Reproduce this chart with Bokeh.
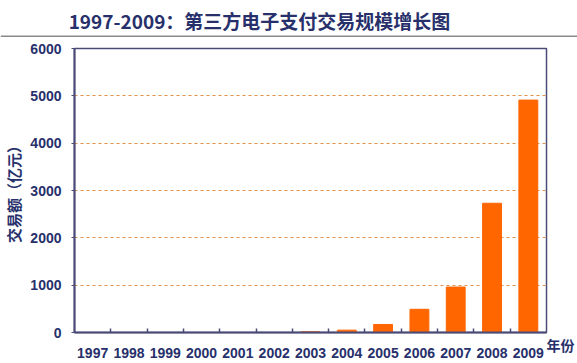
from bokeh.plotting import figure
from bokeh.models import FixedTicker, Label, Range1d, LinearAxis, Span
from bokeh.layouts import column
from bokeh.embed import file_html
from bokeh.resources import INLINE

years = [1997, 1998, 1999, 2000, 2001, 2002, 2003, 2004, 2005, 2006, 2007, 2008, 2009]
values = [0, 0, 0, 0, 0, 0, 15, 50, 170, 490, 960, 2730, 4910]
y_ticks = [0, 1000, 2000, 3000, 4000, 5000, 6000]
title_text = "1997-2009：第三方电子支付交易规模增长图"
y_label = "交易额（亿元）"
x_label = "年份"

NAVY = "#27306B"
AXIS = "#4B4B78"
FONT = "Liberation Sans"
CJK = "Noto Sans CJK SC"
W = 577

# header with the title and a gray rule beneath it
head = figure(width=W, height=37, output_backend="svg", toolbar_location=None,
              x_range=Range1d(0, W), y_range=Range1d(0, 37),
              min_border_left=0, min_border_right=0, min_border_top=0, min_border_bottom=0)
try:
    head.frame_align = False
except Exception:
    pass
head.axis.visible = False
head.grid.visible = False
head.outline_line_color = None
head.add_layout(Label(x=259, y=17, text=title_text, text_font=CJK, text_font_style="bold",
                      text_font_size="19px", text_color=NAVY, text_align="center",
                      text_baseline="middle"))
head.add_layout(Span(location=1, dimension="width", line_color="#8A8A8A", line_width=2))

# main chart
p = figure(width=W, height=326, output_backend="svg", toolbar_location=None,
           x_range=Range1d(years[0] - 0.5, years[-1] + 0.5), y_range=Range1d(0, 6000),
           min_border_left=70, min_border_right=31, min_border_top=11, min_border_bottom=31)
try:
    p.frame_align = False
except Exception:
    pass

p.vbar(x=years, top=values, width=0.52, color="#FF6600", line_color="#FF6600")

boundaries = [y + 0.5 for y in years[:-1]]
p.xaxis.ticker = FixedTicker(ticks=years, minor_ticks=boundaries)
p.xaxis.major_tick_line_color = None
p.xaxis.major_tick_in = 0
p.xaxis.major_tick_out = 0
p.xaxis.minor_tick_in = 4
p.xaxis.minor_tick_out = 0
p.xaxis.minor_tick_line_color = AXIS
p.xaxis.minor_tick_line_width = 1.5
p.yaxis.ticker = FixedTicker(ticks=y_ticks)
p.yaxis.minor_tick_line_color = None
p.yaxis.major_tick_in = 0
p.yaxis.major_tick_out = 3
p.yaxis.major_tick_line_color = AXIS
for ax in (p.xaxis, p.yaxis):
    ax.axis_line_color = AXIS
    ax.axis_line_width = 2
    ax.major_label_text_font = FONT
    ax.major_label_text_font_style = "bold"
    ax.major_label_text_color = NAVY
    ax.major_label_text_font_size = "14px"
p.xaxis.major_label_standoff = 15
p.yaxis.major_label_standoff = 10

p.yaxis.axis_label = y_label
p.yaxis.axis_label_text_font = CJK
p.yaxis.axis_label_text_font_style = "bold"
p.yaxis.axis_label_text_font_size = "15px"
p.yaxis.axis_label_text_color = NAVY
p.yaxis.axis_label_standoff = 3

p.xgrid.grid_line_color = None
p.ygrid.grid_line_color = "#E0904A"
p.ygrid.grid_line_dash = "3 3"
p.ygrid.grid_line_width = 1

p.outline_line_color = AXIS
p.outline_line_width = 1.5

# "年份" on a right-side helper axis, set one line below the bottom-right corner
p.extra_y_ranges = {"lab": Range1d(0, 1)}
lab_axis = LinearAxis(y_range_name="lab", ticker=FixedTicker(ticks=[0]),
                      major_label_overrides={0: "\n" + x_label})
lab_axis.axis_line_color = None
lab_axis.major_tick_line_color = None
lab_axis.minor_tick_line_color = None
lab_axis.major_tick_in = 0
lab_axis.major_tick_out = 0
lab_axis.major_label_standoff = 0
lab_axis.major_label_text_font = CJK
lab_axis.major_label_text_font_style = "bold"
lab_axis.major_label_text_font_size = "14px"
lab_axis.major_label_text_color = NAVY
p.add_layout(lab_axis, "right")

open("out.html", "w").write(file_html(column(head, p, spacing=0), INLINE))
